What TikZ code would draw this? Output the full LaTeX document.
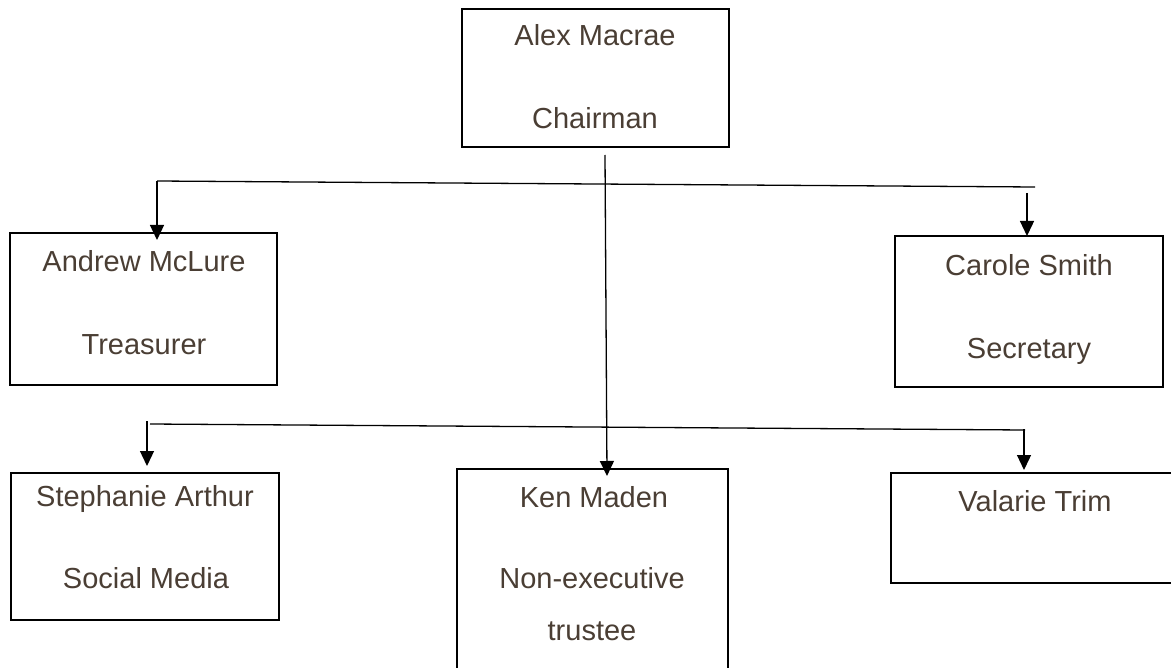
\documentclass[tikz,border=0pt]{standalone}
\usepackage{fontspec}
\setmainfont{Liberation Sans}
\usetikzlibrary{arrows.meta}
\definecolor{txtbrown}{RGB}{74,62,52}
\begin{document}
\begin{tikzpicture}[x=0.5pt,y=-0.5pt,
  box/.style={draw=black,line width=1pt},
  lbl/.style={anchor=base,inner sep=0pt,text=txtbrown,font=\fontsize{14.5pt}{17pt}\selectfont},
  conn/.style={draw=black,line width=0.65pt},
  arr/.style={conn,-{Triangle[length=7.5pt,width=7pt]}}]
\clip (0,0) rectangle (1171,668);
\fill[white] (0,0) rectangle (1171,668);
% boxes
\draw[box] (462,9) rectangle (729,147);
\draw[box] (10,233) rectangle (277,385);
\draw[box] (895,236) rectangle (1163,387);
\draw[box] (11,473) rectangle (279,620);
\draw[box] (457,469) rectangle (728,690);
\draw[box] (891,473) rectangle (1190,583);
% texts
\node[lbl] (alexname) at (595,46) {Alex Macrae};
\node[lbl] (alexrole) at (595,129) {Chairman};
\node[lbl] (andrewname) at (144,271) {Andrew McLure};
\node[lbl] (andrewrole) at (144,354) {Treasurer};
\node[lbl] (carolename) at (1029,275) {Carole Smith};
\node[lbl] (carolerole) at (1029,358) {Secretary};
\node[lbl] (stephname) at (145,506) {Stephanie Arthur};
\node[lbl] (stephrole) at (146,588) {Social Media};
\node[lbl] (kenname) at (594,507) {Ken Maden};
\node[lbl] (kenrole) at (592,588) {Non-executive};
\node[lbl] (kenrole2) at (592,640) {trustee};
\node[lbl] (valname) at (1035,511) {Valarie Trim};
% connector points
\coordinate (hAl) at (157,181);
\coordinate (hAr) at (1035,187);
\coordinate (tAndrew) at (157,240);
\coordinate (sCarole) at (1027,193);
\coordinate (tCarole) at (1027,236);
\coordinate (sKen) at (605,155);
\coordinate (tKen) at (607,476);
\coordinate (hBl) at (150,424);
\coordinate (hBr) at (1025,430);
\coordinate (sSteph) at (147,421);
\coordinate (tSteph) at (147,466);
\coordinate (sVal) at (1024,429);
\coordinate (tVal) at (1024,470);
% connectors
\draw[conn] (hAl) -- (hAr);
\draw[arr] (hAl) -- (tAndrew);
\draw[arr] (sCarole) -- (tCarole);
\draw[arr] (sKen) -- (tKen);
\draw[conn] (hBl) -- (hBr);
\draw[arr] (sSteph) -- (tSteph);
\draw[arr] (sVal) -- (tVal);
\end{tikzpicture}
\end{document}
